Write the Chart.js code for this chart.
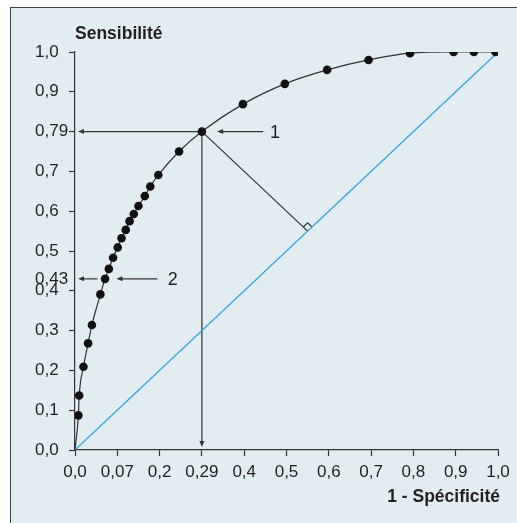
<!DOCTYPE html>
<html>
<head>
<meta charset="utf-8">
<title>Courbe ROC</title>
<script src="https://cdn.jsdelivr.net/npm/chart.js@4.4.1/dist/chart.umd.min.js"></script>
<style>
  html, body { margin: 0; padding: 0; background: #fff; overflow: hidden; }
  #frame { position: absolute; left: 10px; top: 7px; width: 560px; height: 560px; border: 1.5px solid #444; background: #e2edf2; }
  #wrap { position: absolute; left: 0; top: 0; width: 517px; height: 523px; }
</style>
</head>
<body>
<div id="frame"></div>
<div id="wrap"><canvas id="rocChart"></canvas></div>
<script>
// points of the ROC curve (1 - specificity, sensitivity)
const fpr = [0, 0.008, 0.010, 0.020, 0.031, 0.040, 0.060, 0.071, 0.080, 0.090, 0.101, 0.110, 0.120, 0.129, 0.139, 0.150, 0.165, 0.178, 0.197, 0.246, 0.300, 0.397, 0.496, 0.596, 0.694, 0.792, 0.895, 0.943, 0.994];
const tpr = [0, 0.087, 0.137, 0.209, 0.268, 0.314, 0.391, 0.430, 0.455, 0.483, 0.509, 0.532, 0.553, 0.575, 0.593, 0.613, 0.638, 0.662, 0.691, 0.750, 0.800, 0.869, 0.920, 0.955, 0.980, 0.997, 1.0, 1.0, 1.0];

const xTickValues = [0, 0.1, 0.2, 0.3, 0.4, 0.5, 0.6, 0.7, 0.8, 0.9, 1.0];
const xTickLabels = ['0,0', '0,07', '0,2', '0,29', '0,4', '0,5', '0,6', '0,7', '0,8', '0,9', '1,0'];
const yTickValues = [0, 0.1, 0.2, 0.3, 0.4, 0.43, 0.5, 0.6, 0.7, 0.8, 0.9, 1.0];
const yTickLabels = ['0,0', '0,1', '0,2', '0,3', '0,4', '0,43', '0,5', '0,6', '0,7', '0,79', '0,9', '1,0'];

// the two marked thresholds
const cut1 = { x: 0.300, y: 0.800, label: '1' };
const cut2 = { x: 0.071, y: 0.430, label: '2' };

const ink = '#231f20';
const fontName = '"Liberation Sans", Arial, sans-serif';

function arrow(ctx, x1, y1, x2, y2) {
  const a = Math.atan2(y2 - y1, x2 - x1);
  ctx.beginPath();
  ctx.moveTo(x1, y1);
  ctx.lineTo(x2 - 5 * Math.cos(a), y2 - 5 * Math.sin(a));
  ctx.stroke();
  ctx.beginPath();
  ctx.moveTo(x2, y2);
  ctx.lineTo(x2 - 6 * Math.cos(a) + 2.5 * Math.sin(a), y2 - 6 * Math.sin(a) - 2.5 * Math.cos(a));
  ctx.lineTo(x2 - 6 * Math.cos(a) - 2.5 * Math.sin(a), y2 - 6 * Math.sin(a) + 2.5 * Math.cos(a));
  ctx.closePath();
  ctx.fill();
}

const rocNotes = {
  id: 'rocNotes',
  beforeDatasetsDraw(chart) {
    const { ctx, chartArea, scales: { x, y } } = chart;
    ctx.save();
    ctx.strokeStyle = '#333';
    ctx.fillStyle = '#333';
    ctx.lineWidth = 1.2;

    // point 1: arrows to both axes
    const px = x.getPixelForValue(cut1.x);
    const py = y.getPixelForValue(cut1.y);
    arrow(ctx, px, py, chartArea.left + 3, py);
    arrow(ctx, px, py, px, chartArea.bottom - 3);
    arrow(ctx, x.getPixelForValue(0.445), py, x.getPixelForValue(0.336), py);

    // perpendicular to the diagonal
    const foot = (cut1.x + cut1.y) / 2;
    const fx = x.getPixelForValue(foot);
    const fy = y.getPixelForValue(foot);
    ctx.beginPath();
    ctx.moveTo(px, py);
    ctx.lineTo(fx, fy);
    ctx.stroke();
    let ux = px - fx, uy = py - fy;
    let n = Math.hypot(ux, uy);
    ux /= n; uy /= n;
    let vx = x.getPixelForValue(1) - x.getPixelForValue(0);
    let vy = y.getPixelForValue(1) - y.getPixelForValue(0);
    n = Math.hypot(vx, vy);
    vx /= n; vy /= n;
    const s = 6;
    ctx.beginPath();
    ctx.moveTo(fx + s * ux, fy + s * uy);
    ctx.lineTo(fx + s * ux + s * vx, fy + s * uy + s * vy);
    ctx.lineTo(fx + s * vx, fy + s * vy);
    ctx.stroke();

    // point 2
    const qy = y.getPixelForValue(cut2.y);
    arrow(ctx, x.getPixelForValue(0.053), qy, chartArea.left + 3, qy);
    arrow(ctx, x.getPixelForValue(0.195), qy, x.getPixelForValue(0.098), qy);
    ctx.restore();
  },
  afterDraw(chart) {
    const { ctx, chartArea, scales: { x, y } } = chart;
    ctx.save();
    ctx.fillStyle = ink;
    ctx.textBaseline = 'middle';
    ctx.font = '18px ' + fontName;
    ctx.textAlign = 'left';
    ctx.fillText(cut1.label, x.getPixelForValue(0.461), y.getPixelForValue(cut1.y) + 1);
    ctx.fillText(cut2.label, x.getPixelForValue(0.219), y.getPixelForValue(cut2.y) + 1);

    ctx.font = 'bold 17.5px ' + fontName;
    ctx.fillText('Sensibilité', chartArea.left, 34);
    ctx.textAlign = 'right';
    ctx.fillText('1 - Spécificité', chartArea.right + 2, 497);
    ctx.restore();
  }
};

new Chart(document.getElementById('rocChart'), {
  type: 'scatter',
  data: {
    datasets: [{
      label: 'ROC',
      data: fpr.map((v, i) => ({ x: v, y: tpr[i] })),
      showLine: true,
      borderColor: '#333',
      borderWidth: 1.2,
      cubicInterpolationMode: 'monotone',
      pointRadius: ctx => ctx.dataIndex === 0 ? 0 : 4.3,
      pointBackgroundColor: '#111',
      pointBorderWidth: 0
    }, {
      label: 'Diagonale',
      data: [{ x: 0, y: 0 }, { x: 1, y: 1 }],
      showLine: true,
      borderColor: '#3aa6de',
      borderWidth: 1.3,
      pointRadius: 0
    }]
  },
  options: {
    responsive: true,
    maintainAspectRatio: false,
    animation: false,
    layout: { padding: { left: 35, right: 19, top: 52, bottom: 33 } },
    plugins: {
      legend: { display: false },
      tooltip: { enabled: false }
    },
    scales: {
      x: {
        type: 'linear',
        min: 0,
        max: 1,
        afterBuildTicks: scale => { scale.ticks = xTickValues.map(v => ({ value: v })); },
        afterFit: scale => { scale.height = 40; },
        ticks: {
          autoSkip: false,
          maxRotation: 0,
          padding: 6,
          color: ink,
          font: { family: fontName, size: 17 },
          callback: (v, i) => xTickLabels[i]
        },
        grid: { drawOnChartArea: false, drawTicks: true, tickLength: 6, tickColor: '#333', tickWidth: 1.2 },
        border: { color: '#333', width: 1.2 }
      },
      y: {
        type: 'linear',
        min: 0,
        max: 1,
        afterBuildTicks: scale => { scale.ticks = yTickValues.map(v => ({ value: v })); },
        afterFit: scale => { scale.width = 40; },
        ticks: {
          autoSkip: false,
          crossAlign: 'far',
          color: ink,
          font: { family: fontName, size: 17 },
          callback: (v, i) => yTickLabels[i]
        },
        grid: {
          drawOnChartArea: false,
          drawTicks: true,
          tickLength: 6,
          tickWidth: 1.2,
          tickColor: ctx => (ctx.tick && ctx.tick.value === 0.43) ? 'rgba(0,0,0,0)' : '#333'
        },
        border: { color: '#333', width: 1.2 }
      }
    }
  },
  plugins: [rocNotes]
});
</script>
</body>
</html>
